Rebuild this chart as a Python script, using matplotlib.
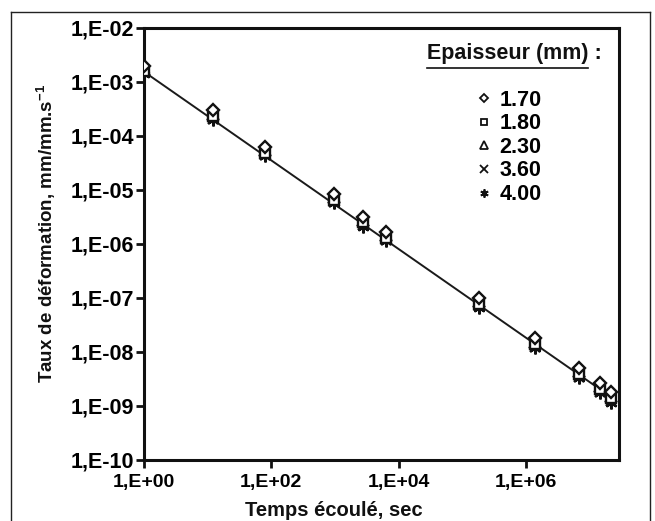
import matplotlib
matplotlib.use("Agg")
import matplotlib.pyplot as plt
from matplotlib.lines import Line2D

plt.rcParams["font.family"] = ["Liberation Sans", "DejaVu Sans"]
plt.rcParams["font.weight"] = "bold"
plt.rcParams["mathtext.fontset"] = "custom"
plt.rcParams["mathtext.bf"] = "Liberation Sans:bold"
plt.rcParams["mathtext.rm"] = "Liberation Sans:bold"
plt.rcParams["mathtext.default"] = "bf"

# elapsed time (s)
temps = [1, 12, 80, 950, 2800, 6300, 1.8e5, 1.4e6, 6.7e6, 1.45e7, 2.2e7]

# strain rate per thickness (mm/mm.s-1)
ep_170 = [2.0e-3, 3.0e-4, 6.3e-5, 8.5e-6, 3.2e-6, 1.65e-6, 1.0e-7, 1.8e-8, 5.0e-9, 2.7e-9, 1.8e-9]
ep_180 = [1.6e-3, 2.3e-4, 4.9e-5, 6.6e-6, 2.5e-6, 1.3e-6, 7.8e-8, 1.4e-8, 3.9e-9, 2.1e-9, 1.4e-9]
ep_230 = [1.75e-3, 2.6e-4, 5.5e-5, 7.4e-6, 2.8e-6, 1.45e-6, 8.8e-8, 1.55e-8, 4.4e-9, 2.35e-9, 1.55e-9]
ep_360 = [1.5e-3, 2.1e-4, 4.5e-5, 6.0e-6, 2.25e-6, 1.2e-6, 7.0e-8, 1.25e-8, 3.5e-9, 1.85e-9, 1.25e-9]
ep_400 = [1.4e-3, 2.0e-4, 4.3e-5, 5.7e-6, 2.1e-6, 1.15e-6, 6.6e-8, 1.18e-8, 3.3e-9, 1.75e-9, 1.15e-9]

series_labels = ["1.70", "1.80", "2.30", "3.60", "4.00"]

# fitted power law line
fit_x = [1, 2.2e7]
fit_y = [1.55e-3, 1.45e-9]

yticks = [1e-10, 1e-9, 1e-8, 1e-7, 1e-6, 1e-5, 1e-4, 1e-3, 1e-2]
ytick_labels = ["1,E-10", "1,E-09", "1,E-08", "1,E-07", "1,E-06", "1,E-05", "1,E-04", "1,E-03", "1,E-02"]
xticks = [1, 1e2, 1e4, 1e6]
xtick_labels = ["1,E+00", "1,E+02", "1,E+04", "1,E+06"]

fig = plt.figure(figsize=(6.55, 5.21), dpi=100)
ax = fig.add_axes([0.2198, 0.1171, 0.7252, 0.8292])

ax.plot(fit_x, fit_y, color="#1a1a1a", linewidth=1.4, zorder=2)

styles = [
    dict(marker="D", markersize=6.5, markerfacecolor="white"),
    dict(marker="s", markersize=7, markerfacecolor="white"),
    dict(marker="^", markersize=7.5, markerfacecolor="white"),
    dict(marker="x", markersize=7.5),
    dict(marker=(6, 2, 0), markersize=8.5),
]
data = [ep_170, ep_180, ep_230, ep_360, ep_400]
for vals, st in zip(data[::-1], styles[::-1]):
    ax.plot(temps, vals, linestyle="none", color="#111111", markeredgecolor="#111111",
            markeredgewidth=1.7, zorder=3, **st)

handles = []
for lab, st in zip(series_labels, styles):
    small = dict(st)
    small["markersize"] = st["markersize"] * 0.7
    handles.append(Line2D([], [], linestyle="none", color="#111111", markeredgecolor="#111111",
                          markeredgewidth=1.3, label=lab, **small))

ax.set_xscale("log")
ax.set_yscale("log")
ax.set_xlim(1, 10 ** 7.46)
ax.set_ylim(1e-10, 1e-2)
ax.set_yticks(yticks)
ax.set_yticklabels(ytick_labels)
ax.set_xticks(xticks)
ax.set_xticklabels(xtick_labels)
ax.minorticks_off()
ax.tick_params(axis="y", length=6, width=2, pad=1, labelsize=15.5, color="#111111")
ax.tick_params(axis="x", length=6, width=2, pad=4, labelsize=14, color="#111111")
for sp in ax.spines.values():
    sp.set_linewidth(2.2)
    sp.set_color("#111111")

ax.set_xlabel("Temps écoulé, sec", fontsize=14.5, fontweight="bold", color="#111111")
ax.xaxis.set_label_coords(0.40, -0.095)
ax.set_ylabel("Taux de déformation, mm/mm.s$^{-1}$", fontsize=13.5, fontweight="bold", color="#111111")
ax.yaxis.set_label_coords(-0.18, 0.525)

# legend with underlined title
ax.text(0.595, 0.942, "Epaisseur (mm) :", transform=ax.transAxes, fontsize=15.5,
        fontweight="bold", va="center", ha="left", color="#111111")
ax.plot([0.595, 0.935], [0.907, 0.907], transform=ax.transAxes, color="#111111",
        linewidth=1.2, clip_on=False)
ax.legend(handles=handles, loc="upper left", bbox_to_anchor=(0.68, 0.882), frameon=False,
          handlelength=0.6, handletextpad=0.4, labelspacing=0.12,
          borderpad=0, prop={"weight": "bold", "size": 15.5})

# outer frame around the figure
fl, fr, ft = 11 / 655, 650 / 655, 1 - 12 / 521
for xs, ys in [([fl, fl], [ft, -0.1]), ([fl, fr], [ft, ft]), ([fr, fr], [ft, -0.1])]:
    fig.add_artist(Line2D(xs, ys, transform=fig.transFigure, color="#222222", linewidth=1.0))

fig.savefig("out.png", dpi=100)
